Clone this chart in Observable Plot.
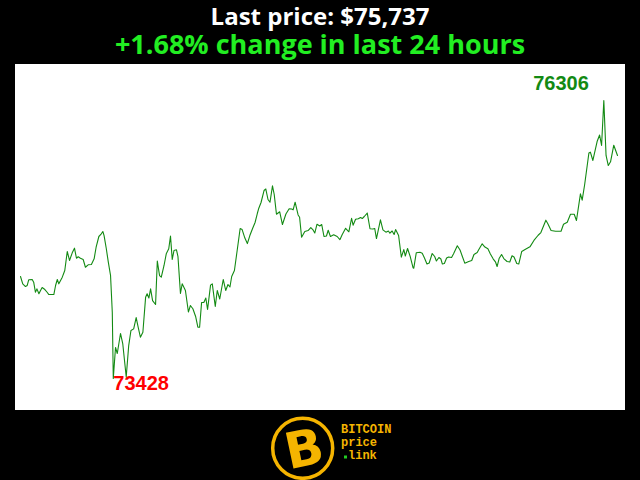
<!DOCTYPE html>
<html>
<head>
<meta charset="utf-8">
<script src="https://cdn.jsdelivr.net/npm/d3@7"></script>
<script src="https://cdn.jsdelivr.net/npm/@observablehq/plot@0.6"></script>
<style>
  html, body { margin: 0; padding: 0; background: #000; width: 640px; height: 480px; overflow: hidden; }
  #title { position: absolute; left: 0; width: 640px; top: 3px; text-align: center; color: #fff;
    font: 700 24px "Open Sans", sans-serif; line-height: 26px; }
  #subtitle { position: absolute; left: 0; width: 640px; top: 30px; text-align: center; color: #22ee22;
    font: 700 27px "Open Sans", sans-serif; line-height: 28px; }
  #chart { position: absolute; left: 15px; top: 64px; width: 610px; height: 346px; background: #fff; }
  #chart svg { display: block; }
  #logo { position: absolute; left: 260px; top: 410px; }
</style>
</head>
<body>
<div id="title"></div>
<div id="subtitle"></div>
<div id="chart"></div>
<svg id="logo" width="160" height="70" viewBox="0 0 160 70">
  <circle cx="42.7" cy="38.3" r="30" fill="none" stroke="#f5b400" stroke-width="3.5"></circle>
  <text x="44" y="56" text-anchor="middle" transform="rotate(-12 44 38)" fill="#f5b400"
    font-family="DejaVu Sans" font-weight="900" font-size="50">B</text>
  <text x="81" y="23" fill="#f5b400" font-family="Liberation Mono" font-weight="700" font-size="12">BITCOIN</text>
  <text x="81" y="36" fill="#f5b400" font-family="Liberation Mono" font-weight="700" font-size="12">price</text>
  <rect x="84" y="45.5" width="3" height="3" fill="#22cc22"></rect>
  <text x="88" y="49" fill="#f5b400" font-family="Liberation Mono" font-weight="700" font-size="12">link</text>
</svg>
<script>
// Title texts
const lastPrice = 75737;
const changePct = 1.68;

// Hours since start of 24h window
const hours = [
0,0.09,0.20,0.27,0.33,0.47,0.53,0.60,0.66,0.74,0.80,0.87,0.98,1.07,1.14,1.34,1.41,1.48,1.54,1.68,
1.78,1.88,1.97,2.08,2.17,2.25,2.32,2.41,2.52,2.61,2.72,2.85,2.96,3.04,3.15,3.23,3.31,3.36,3.45,3.53,
3.62,3.69,3.73,3.82,3.89,4.02,4.11,4.25,4.35,4.44,4.55,4.65,4.73,4.82,4.92,5.03,5.09,5.16,5.23,5.31,
5.43,5.50,5.59,5.66,5.77,5.86,5.96,6.03,6.10,6.17,6.27,6.33,6.43,6.50,6.63,6.75,6.83,6.93,7.04,7.13,
7.20,7.28,7.37,7.45,7.52,7.64,7.71,7.83,7.91,8.01,8.15,8.25,8.34,8.42,8.49,8.60,8.71,8.83,8.91,9.02,
9.12,9.22,9.33,9.43,9.52,9.58,9.67,9.79,9.86,9.95,10.03,10.13,10.20,10.29,10.42,10.53,10.67,10.80,10.90,10.96,
11.04,11.16,11.22,11.30,11.43,11.56,11.67,11.75,11.83,11.92,12.03,12.11,12.20,12.30,12.37,12.46,12.59,12.73,12.84,12.93,
13.07,13.20,13.31,13.37,13.47,13.58,13.67,13.74,13.82,13.94,14.05,14.17,14.24,14.31,14.47,14.57,14.69,14.79,14.85,14.94,
15.02,15.08,15.20,15.31,15.41,15.47,15.56,15.67,15.78,15.81,15.91,16.06,16.15,16.24,16.34,16.43,16.55,16.65,16.72,16.82,
16.90,16.96,17.04,17.13,17.21,17.33,17.41,17.56,17.67,17.76,17.86,18.02,18.14,18.23,18.36,18.42,18.56,18.67,18.79,18.89,
19.00,19.10,19.16,19.24,19.34,19.43,19.56,19.67,19.76,19.84,19.95,20.03,20.15,20.30,20.48,20.64,20.81,20.92,21.12,21.20,
21.33,21.51,21.73,21.83,21.98,22.11,22.26,22.35,22.51,22.58,22.68,22.85,22.91,23.01,23.18,23.28,23.36,23.45,23.54,23.63,
23.72,23.85,24.00
];

// BTC price (USD)
const prices = [
74484,74408,74380,74391,74450,74453,74425,74321,74356,74305,74336,74370,74349,74321,74297,74297,74391,74453,74408,74477,
74546,74743,74650,74729,74777,74673,74688,74673,74660,74580,74605,74608,74667,74787,74898,74919,74950,74908,74771,74632,
74494,74114,73428,73749,73687,73894,73790,73443,73769,73925,73942,74059,73959,73855,73907,74270,74305,74261,74356,74235,
74194,74644,74494,74477,74598,74719,74771,74903,74660,74753,74760,74691,74308,74408,74339,74116,74184,74150,74070,73959,
73959,74215,74215,74261,74142,74394,74408,74173,74339,74251,74453,74339,74401,74375,74484,74546,74753,74981,74970,74882,
74825,74908,74981,75043,75136,75191,75250,75374,75390,75281,75253,75423,75333,75128,75154,75022,75131,75185,75183,75174,
75253,75121,75098,74891,74950,74960,74991,74970,74934,75025,75007,75022,74898,74903,74963,74898,74916,74898,74865,74916,
74983,74947,75087,75015,75076,75081,75095,75084,75105,75141,74978,74976,74981,74877,75071,74967,74943,74955,74932,74955,
74919,74970,74908,74684,74763,74696,74774,74688,74575,74570,74729,74735,74725,74675,74613,74624,74722,74691,74644,74681,
74665,74613,74618,74675,74686,74681,74719,74802,74758,74694,74622,74639,74650,74712,74732,74760,74822,74789,74771,74717,
74667,74632,74587,74670,74712,74670,74639,74634,74699,74686,74618,74613,74743,74766,74791,74857,74911,74939,75067,75029,
74960,74953,74953,75025,75046,75129,75129,75064,75340,75274,75436,75762,75771,75685,75881,75949,75840,76306,75737,75633,
75671,75843,75737
];

const data = hours.map((h, i) => ({hour: h, price: prices[i]}));

document.getElementById("title").textContent = "Last price: $" + d3.format(",")(lastPrice);
document.getElementById("subtitle").textContent = (changePct >= 0 ? "+" : "") + changePct.toFixed(2) + "% change in last 24 hours";

const chart = Plot.plot({
  width: 610,
  height: 346,
  marginLeft: 5,
  marginRight: 8,
  marginTop: 36,
  marginBottom: 32,
  style: {background: "#fff", overflow: "visible"},
  x: {domain: [0, 24], axis: null},
  y: {domain: d3.extent(prices), axis: null},
  marks: [
    Plot.line(data, {x: "hour", y: "price", stroke: "#138a13", strokeWidth: 1.1}),
    Plot.text(data, Plot.selectMaxY({x: "hour", y: "price", text: d => String(d.price),
      fill: "#138a13", textAnchor: "end", dx: -15, dy: -16.5,
      fontFamily: "Liberation Sans", fontWeight: "bold", fontSize: 20})),
    Plot.text(data, Plot.selectMinY({x: "hour", y: "price", text: d => String(d.price),
      fill: "#ff0000", textAnchor: "start", dx: 0, dy: 5.5,
      fontFamily: "Liberation Sans", fontWeight: "bold", fontSize: 20}))
  ]
});
document.getElementById("chart").appendChild(chart);
</script>
</body>
</html>
